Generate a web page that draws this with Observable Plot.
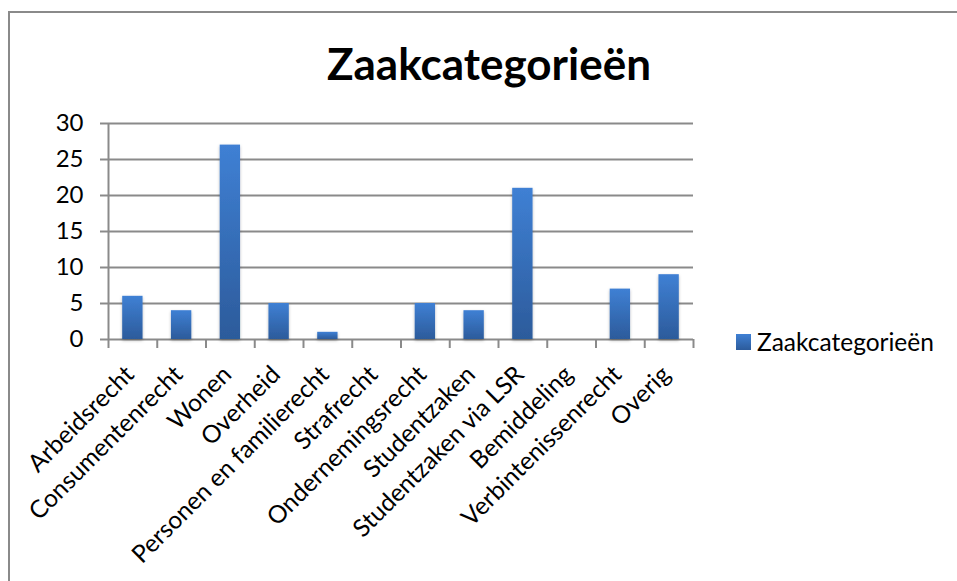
<!DOCTYPE html>
<html>
<head>
<meta charset="utf-8">
<script src="https://cdn.jsdelivr.net/npm/d3@7"></script>
<script src="https://cdn.jsdelivr.net/npm/@observablehq/plot@0.6"></script>
<style>
  html, body { margin: 0; padding: 0; background: #fff; overflow: hidden; }
  #wrap { position: relative; width: 957px; height: 581px; overflow: hidden; font-family: Lato, "Liberation Sans", sans-serif; }
  #frame { position: absolute; left: 8px; top: 11px; width: 1200px; height: 1200px; border-left: 2px solid #8a8a8a; border-top: 2px solid #8a8a8a; box-sizing: border-box; }
  #title { position: absolute; left: 0; width: 978px; top: 41px; text-align: center; font-weight: bold; font-size: 44px; line-height: 1; color: #000; }
  #chart { position: absolute; left: 0; top: 0; }
  #legend { position: absolute; left: 736px; top: 327px; display: flex; align-items: center; font-size: 24.5px; color: #000; }
  #legend .sw { width: 15px; height: 16px; margin-right: 6px; background: linear-gradient(#3f80d4, #2c5b9b); }
</style>
</head>
<body>
<div id="wrap">
  <div id="frame"></div>
  <div id="chart"></div>
  <div id="title"></div>
  <div id="legend"><div class="sw"></div><span id="legendText"></span></div>
</div>
<script>
const chartTitle = "Zaakcategorieën";
const seriesName = "Zaakcategorieën";
const categories = ["Arbeidsrecht", "Consumentenrecht", "Wonen", "Overheid", "Personen en familierecht", "Strafrecht", "Ondernemingsrecht", "Studentzaken", "Studentzaken via LSR", "Bemiddeling", "Verbintenissenrecht", "Overig"];
const values = [6, 4, 27, 5, 1, 0, 5, 4, 21, 0, 7, 9];
const yTicks = [0, 5, 10, 15, 20, 25, 30];

document.getElementById("title").textContent = chartTitle;
document.getElementById("legendText").textContent = seriesName;

const data = categories.map((c, i) => ({cat: c, value: values[i]}));

const W = 957, H = 581, mL = 108, mR = 264, mT = 123, mB = 242;
const step = (W - mL - mR) / categories.length;
const gray = "#8a8a8a";

const plot = Plot.plot({
  width: W, height: H,
  marginLeft: mL, marginRight: mR, marginTop: mT, marginBottom: mB,
  style: {fontFamily: "Lato, 'Liberation Sans', sans-serif", fontSize: "24px", color: "#000", background: "transparent", overflow: "visible"},
  x: {domain: categories, padding: 0, round: false, label: null, axis: null},
  y: {domain: [0, 30], ticks: yTicks, label: null, tickSize: 8, tickPadding: 17},
  marks: [
    Plot.gridY(yTicks, {stroke: gray, strokeOpacity: 1, strokeWidth: 2}),
    Plot.ruleX([categories[0]], {x: d => d, y1: 0, y2: 30, dx: -step / 2, stroke: gray, strokeWidth: 2}),
    Plot.ruleX(categories, {x: d => d, y1: 0, y2: 0, dx: -step / 2, insetBottom: -9, stroke: gray, strokeWidth: 2}),
    Plot.ruleX([categories[categories.length - 1]], {x: d => d, y1: 0, y2: 0, dx: step / 2, insetBottom: -9, stroke: gray, strokeWidth: 2}),
    Plot.barY(data, {x: "cat", y: "value", fill: "url(#barGrad)", insetLeft: 14.2, insetRight: 14.2, filter: d => d.value > 0}),
    Plot.text(categories, {x: d => d, y: () => 0, text: d => d, rotate: -45, textAnchor: "end", lineAnchor: "middle", dx: -3, dy: 31, fill: "#000", fontSize: 24.5})
  ]
});

// gradient + soft shadow defs for bars
const ns = "http://www.w3.org/2000/svg";
const defs = document.createElementNS(ns, "defs");
defs.innerHTML = `
  <linearGradient id="barGrad" x1="0" y1="0" x2="0" y2="1">
    <stop offset="0" stop-color="#3f80d4"/>
    <stop offset="1" stop-color="#2c5b9b"/>
  </linearGradient>
  <filter id="barShadow" x="-30%" y="-10%" width="160%" height="130%">
    <feDropShadow dx="0" dy="1.5" stdDeviation="1.8" flood-color="#000" flood-opacity="0.28"/>
  </filter>`;
plot.insertBefore(defs, plot.firstChild);
plot.querySelectorAll("g[aria-label='bar']").forEach(g => g.setAttribute("filter", "url(#barShadow)"));
plot.querySelectorAll("g[aria-label='y-axis tick'] path, g[aria-label='y-axis'] path, g[aria-label='y-axis'] line").forEach(p => { p.setAttribute("stroke", gray); p.setAttribute("stroke-width", 2); });
document.getElementById("chart").appendChild(plot);
</script>
</body>
</html>
